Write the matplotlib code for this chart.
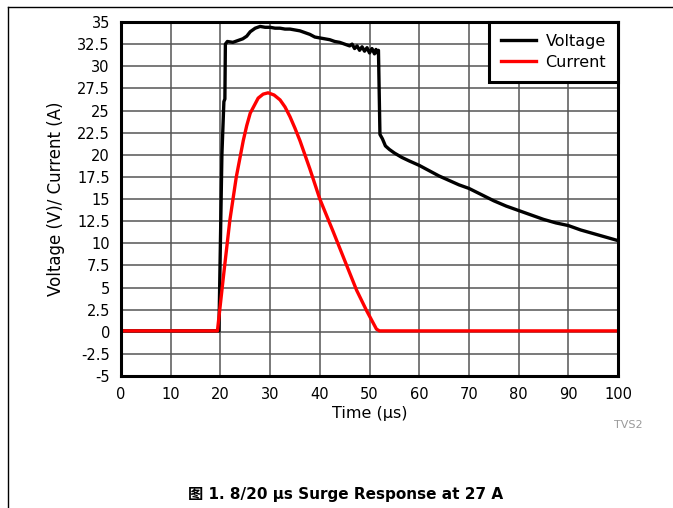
import matplotlib
matplotlib.use("Agg")
import matplotlib.pyplot as plt
from matplotlib.lines import Line2D

# Voltage trace (V) read from the scope capture
volt_t = [0, 5, 10, 15, 19.3, 19.7, 20.3, 20.7, 20.9, 21.0, 21.4, 22.5, 23.5,
          24.5, 25.3, 26.0, 27.0, 28.0, 29.0, 30.0, 31.0, 32.0, 33.0, 34.0,
          35.0, 36.0, 37.0, 38.0, 39.0, 40.0, 41.0, 42.0, 43.0, 44.0, 45.0,
          46.0, 46.5, 47.0, 47.5, 48.0, 48.5, 49.0, 49.5, 50.0, 50.5, 51.0,
          51.3, 51.6, 51.8, 52.1, 52.6, 53.2, 54.0, 55.0, 56.5, 58.0, 60.0,
          62.0, 64.0, 66.0, 68.0, 70.0, 72.5, 75.0, 77.5, 80.0, 82.5, 85.0,
          87.5, 90.0, 92.5, 95.0, 97.5, 100]
volt_v = [0.1, 0.1, 0.1, 0.1, 0.1, 0.1, 20.0, 26.0, 26.3, 32.5, 32.8, 32.7, 32.9,
          33.1, 33.4, 33.9, 34.3, 34.5, 34.4, 34.4, 34.3, 34.3, 34.2, 34.2,
          34.1, 34.0, 33.8, 33.6, 33.3, 33.2, 33.1, 33.0, 32.8, 32.7, 32.5,
          32.3, 32.5, 32.0, 32.3, 31.8, 32.2, 31.7, 32.1, 31.5, 32.0, 31.4,
          31.9, 31.5, 31.8, 22.3, 21.8, 21.0, 20.6, 20.2, 19.7, 19.3, 18.8,
          18.2, 17.6, 17.1, 16.6, 16.2, 15.5, 14.8, 14.2, 13.7, 13.2, 12.7,
          12.3, 12.0, 11.5, 11.1, 10.7, 10.3]

# Current trace (A)
cur_t = [0, 5, 10, 15, 19.4, 20.6, 21.9, 23.2, 24.6, 25.3, 26.0, 27.6, 28.6,
         29.6, 30.8, 32.0, 33.0, 34.0, 35.0, 36.0, 37.0, 38.0, 39.0, 40.0,
         42.7, 45.4, 47.4, 49.4, 51.4, 52.0, 60, 70, 80, 90, 100]
cur_v = [0.1, 0.1, 0.1, 0.1, 0.1, 6.2, 12.6, 17.5, 21.6, 23.3, 24.7, 26.4, 26.85,
         27.0, 26.75, 26.2, 25.4, 24.3, 23.0, 21.6, 20.0, 18.4, 16.7, 15.0,
         11.3, 7.5, 4.7, 2.4, 0.3, 0.1, 0.1, 0.1, 0.1, 0.1, 0.1]

x_ticks = list(range(0, 101, 10))
y_ticks = [-5, -2.5, 0, 2.5, 5, 7.5, 10, 12.5, 15, 17.5, 20, 22.5, 25, 27.5,
           30, 32.5, 35]
y_tick_labels = ["-5", "-2.5", "0", "2.5", "5", "7.5", "10", "12.5", "15",
                 "17.5", "20", "22.5", "25", "27.5", "30", "32.5", "35"]

plt.rcParams['font.family'] = ['DejaVu Sans', 'Noto Sans CJK SC']

fig = plt.figure(figsize=(6.73, 5.08), dpi=100)
ax = fig.add_axes([0.1798, 0.2598, 0.7385, 0.6969])

ax.plot(volt_t, volt_v, color='black', linewidth=2.4, label='Voltage')
ax.plot(cur_t, cur_v, color='#ff0000', linewidth=2.4, label='Current')

ax.set_xlim(0, 100)
ax.set_ylim(-5, 35)
ax.set_xticks(x_ticks)
ax.set_yticks(y_ticks)
ax.set_yticklabels(y_tick_labels)
ax.tick_params(length=0, labelsize=10.5, pad=8)
ax.grid(True, color='#555555', linewidth=1.1)
ax.set_axisbelow(True)
for s in ax.spines.values():
    s.set_linewidth(2.2)

ax.set_xlabel('Time (μs)', fontsize=11.5, labelpad=3)
ax.set_ylabel('Voltage (V)/ Current (A)', fontsize=12, labelpad=9)

leg = ax.legend(loc='upper right', borderaxespad=0, fancybox=False,
                fontsize=11.5, handlelength=2.2, handletextpad=0.6,
                borderpad=0.75, labelspacing=0.35, framealpha=1)
leg.get_frame().set_edgecolor('black')
leg.get_frame().set_linewidth(2.2)

fig.text(0.933, 0.163, 'TVS2', fontsize=8, color='#999999',
         ha='center', va='center')
fig.text(0.513, 0.026, '图 1. 8/20 μs Surge Response at 27 A', fontsize=11,
         fontweight='bold', ha='center', va='center')

# page border (top and left edges)
fig.add_artist(Line2D([8 / 673, 1], [1 - 7 / 508, 1 - 7 / 508],
                      transform=fig.transFigure, color='black', linewidth=1))
fig.add_artist(Line2D([8 / 673, 8 / 673], [0, 1 - 7 / 508],
                      transform=fig.transFigure, color='black', linewidth=1))

fig.savefig('out.png', dpi=100)
